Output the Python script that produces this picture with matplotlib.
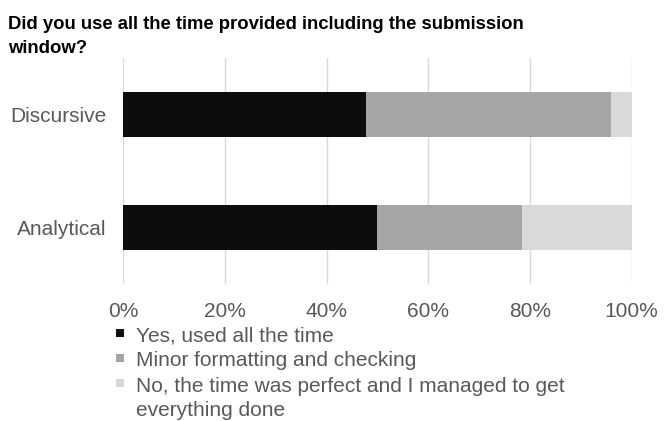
import matplotlib
matplotlib.use("Agg")
import matplotlib.pyplot as plt
from matplotlib.patches import Rectangle
import numpy as np

plt.rcParams['font.family'] = ['Liberation Sans', 'DejaVu Sans']

title = "Did you use all the time provided including the submission\nwindow?"
categories = ["Analytical", "Discursive"]
series_names = ["Yes, used all the time",
                "Minor formatting and checking",
                "No, the time was perfect and I managed to get\neverything done"]
yes_vals = [49.8, 47.8]
minor_vals = [28.6, 48.1]
no_vals = [21.6, 4.1]
colors = ["#0d0d0d", "#a6a6a6", "#d9d9d9"]
xticks = [0, 20, 40, 60, 80, 100]
xtick_labels = ["0%", "20%", "40%", "60%", "80%", "100%"]

W, H = 669, 421
fig = plt.figure(figsize=(W / 100, H / 100), dpi=100)
ax = fig.add_axes([123.4 / W, 1 - 284.3 / H, (631.7 - 123.4) / W, (284.3 - 58) / H])

y = np.arange(len(categories))
left = np.zeros(len(categories))
for vals, c in zip([yes_vals, minor_vals, no_vals], colors):
    ax.barh(y, vals, left=left, height=0.4, color=c, zorder=2)
    left = left + np.array(vals)

ax.set_xlim(0, 100)
ax.set_ylim(-0.5, 1.5)
ax.set_xticks(xticks)
ax.set_xticklabels(xtick_labels)
ax.set_yticks(y)
ax.set_yticklabels(categories)
ax.grid(axis='x', color='#d9d9d9', linewidth=1, zorder=0)
ax.set_axisbelow(True)
for s in ax.spines.values():
    s.set_visible(False)
ax.tick_params(axis='both', length=0, labelsize=15, labelcolor='#595959')
ax.tick_params(axis='x', pad=13)
ax.tick_params(axis='y', pad=12)

# title
title_lines = title.split("\n")
for i, line in enumerate(title_lines):
    fig.text(8 / W, 1 - (29 + 24 * i) / H, line, ha='left', va='baseline',
             fontsize=13.3, fontweight='bold', color='#000000')

# legend (manual, first-line aligned markers)
baseline = 341.5
pitch = 25
for name, c in zip(series_names, colors):
    lines = name.split("\n")
    fig.add_artist(Rectangle((116 / W, 1 - (baseline - 4.5) / H), 8 / W, 8 / H,
                             transform=fig.transFigure, facecolor=c,
                             edgecolor='none'))
    for line in lines:
        fig.text(136 / W, 1 - baseline / H, line, ha='left', va='baseline',
                 fontsize=15, color='#595959')
        baseline += pitch

fig.savefig("out.png", dpi=100)
